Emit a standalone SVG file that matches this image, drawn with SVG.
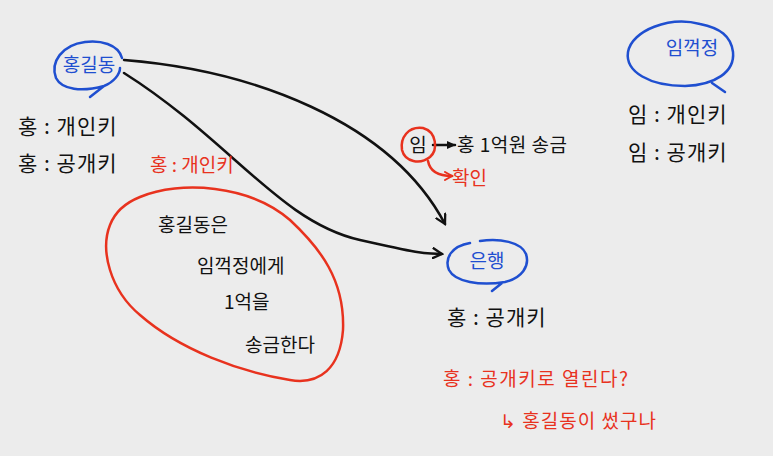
<svg xmlns="http://www.w3.org/2000/svg" width="773" height="456" viewBox="0 0 773 456">
<style>
text{font-family:"Noto Sans CJK KR","Noto Sans",sans-serif;font-size:19px;fill:#111}
.k{font-size:21px;letter-spacing:1px}
.b{fill:#1f4fd0}
.r{fill:#e8321e}
.sb{fill:none;stroke:#1f4fd0;stroke-width:2.5;stroke-linecap:round}
.sr{fill:none;stroke:#e8321e;stroke-width:2.5;stroke-linecap:round}
.sk{fill:none;stroke:#111;stroke-width:2.5;stroke-linecap:round;stroke-linejoin:round}
</style>
<defs>
<marker id="v" markerWidth="12" markerHeight="12" refX="10" refY="6" orient="auto" markerUnits="userSpaceOnUse">
<path d="M1,1 L10,6 L1,11" fill="none" stroke="#111" stroke-width="2.3" stroke-linecap="round"/>
</marker>
<marker id="vr" markerWidth="10" markerHeight="10" refX="8" refY="5" orient="auto" markerUnits="userSpaceOnUse">
<path d="M1,1 L8,5 L1,9" fill="none" stroke="#e8321e" stroke-width="2" stroke-linecap="round"/>
</marker>
<marker id="f" markerWidth="10" markerHeight="10" refX="8" refY="5" orient="auto" markerUnits="userSpaceOnUse">
<path d="M0,1 L9,5 L0,9 Z" fill="#111"/>
</marker>
</defs>
<rect width="773" height="456" fill="#ececec"/>

<g id="connectors">
<path class="sk" d="M124,60 C250,70 390,120 445,224" marker-end="url(#v)"/>
<path class="sk" d="M124,73 C230,140 280,222 360,240 S420,252 442,254" marker-end="url(#v)"/>
<path class="sk" d="M433,145 L455,145" marker-end="url(#f)"/>
<path class="sr" d="M428,161 C430,172 440,176 452,176" marker-end="url(#vr)"/>
</g>

<g id="hong">
<path class="sb" d="M122,58 C118,44 100,40 85,42 C62,45 50,62 56,78 C62,90 82,92 104,86 C114,82 120,74 120,68 M104,86 L90,97"/>
<text x="89" y="72" class="b" font-size="21" text-anchor="middle">홍길동</text>
</g>
<g id="hong-keys">
<text x="18" y="134" class="k">홍 : 개인키</text>
<text x="18" y="171" class="k">홍 : 공개키</text>
</g>

<g id="im">
<path class="sb" d="M700,24 C670,16 632,30 628,52 C625,72 650,86 685,86 C715,85 735,72 733,52 C731,36 720,28 700,24 M712,83 L725,92"/>
<text x="692" y="55" class="b" font-size="21" text-anchor="middle">임꺽정</text>
</g>
<g id="im-keys">
<text x="628" y="122" class="k">임 : 개인키</text>
<text x="628" y="160" class="k">임 : 공개키</text>
</g>

<g id="message">
<path class="sr" d="M423,128 C408,126 400,138 402,150 C405,162 420,165 430,157 C438,150 437,132 423,128"/>
<text x="418" y="152" text-anchor="middle">임</text>
<text x="457" y="152" font-size="20" letter-spacing="0.5">홍 1억원 송금</text>
<text x="452" y="185" class="r" font-size="20">확인</text>
</g>

<g id="signed">
<text x="150" y="172" class="r" font-size="18">홍 : 개인키</text>
<path class="sr" d="M140,197 C180,180 250,185 290,220 C320,248 345,280 343,330 C340,368 320,385 290,380 C240,372 180,350 140,315 C110,290 100,250 110,225 C115,212 125,203 140,197 Z"/>
<text x="158" y="232" font-size="18">홍길동은</text>
<text x="197" y="273" font-size="18">임꺽정에게</text>
<text x="224" y="309" font-size="18">1억을</text>
<text x="245" y="352" font-size="18">송금한다</text>
</g>

<g id="bank">
<path class="sb" d="M470,243 C452,246 444,258 449,270 C455,282 480,286 505,282 C522,278 530,266 526,254 C521,242 500,238 480,241 M502,283 L492,291"/>
<text x="487" y="268" class="b" font-size="19" text-anchor="middle">은행</text>
</g>
<g id="bank-key">
<text x="447" y="325" class="k">홍 : 공개키</text>
</g>

<g id="verify">
<text x="443" y="386" class="r" font-size="21" letter-spacing="1.5">홍 : 공개키로 열린다?</text>
<text x="500" y="428" class="r" font-size="21" letter-spacing="1">↳ 홍길동이 썼구나</text>
</g>
</svg>
